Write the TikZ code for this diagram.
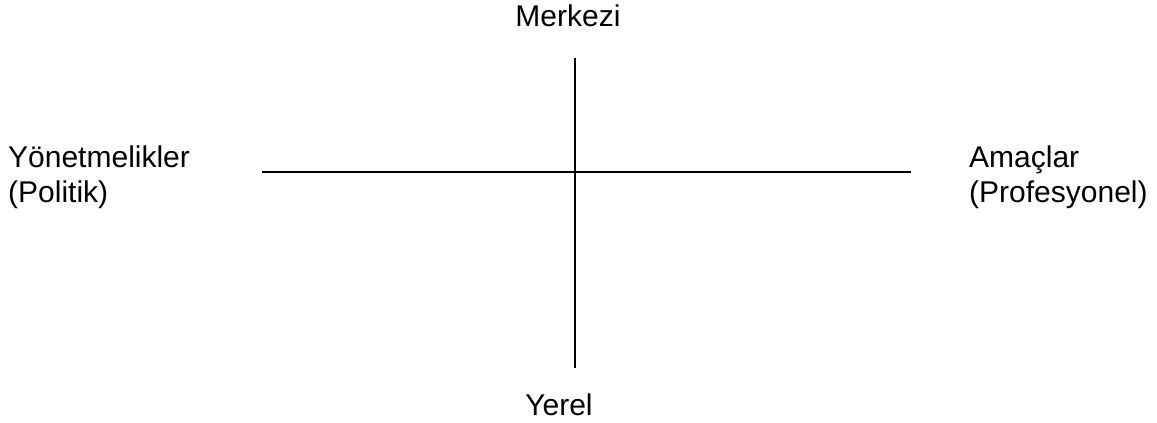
\documentclass[tikz,border=0pt]{standalone}
\usepackage{fontspec}
\setmainfont{Liberation Sans}
\usepackage{tikz}
\usetikzlibrary{positioning}

\begin{document}
\begin{tikzpicture}[
  x=1pt, y=-1pt,
  axis/.style={line width=1.4pt, black},
  polelabel/.style={
    inner sep=0pt,
    font=\fontsize{30}{35}\selectfont,
    align=left
  }
]
  \useasboundingbox (0,0) rectangle (1157,423);

  % Axis end points
  \coordinate (top) at (575,58);
  \coordinate (bottom) at (575,368);
  \coordinate (left) at (262,172);
  \coordinate (right) at (911,172);

  % Axes
  \draw[axis] (top) -- (bottom);
  \draw[axis] (left) -- (right);

  % Pole labels
  \node[polelabel, anchor=base] (merkezi) at (568,27) {Merkezi};
  \node[polelabel, anchor=base] (yerel) at (559,415) {Yerel};
  \node[polelabel, anchor=north west] (yonet) at (8,146) {Yönetmelikler\\(Politik)};
  \node[polelabel, anchor=north west] (amac) at (969,146) {Amaçlar\\(Profesyonel)};

\end{tikzpicture}
\end{document}
